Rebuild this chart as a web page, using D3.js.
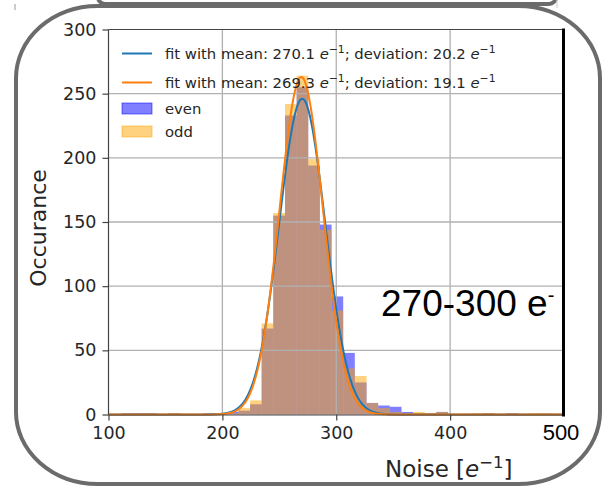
<!DOCTYPE html>
<html>
<head>
<meta charset="utf-8">
<script src="https://cdn.jsdelivr.net/npm/d3@7/dist/d3.min.js"></script>
<style>
  body { margin: 0; background: #fff; }
  svg { display: block; }
</style>
</head>
<body>
<svg id="chart" width="606" height="489"></svg>
<script>
// histogram bin edges (noise, e^-1)
const binEdges = [101.5, 111.7, 122.0, 132.2, 142.4, 152.7, 162.9, 173.1, 183.3, 193.6,
    203.8, 214.0, 224.3, 234.5, 244.7, 255.0, 265.2, 275.4, 285.6, 295.9,
    306.1, 316.3, 326.6, 336.8, 347.0, 357.3, 367.5, 377.7, 387.9, 398.2,
    408.4, 418.6, 428.9, 439.1, 449.3, 459.6, 469.8, 480.0, 490.2, 500.5];

// counts per bin
const evenCounts = [0, 1, 1, 1, 0, 1, 0, 0, 1, 1,
    2, 3, 8, 67, 155, 233, 255, 194, 148, 92,
    48, 25, 9, 7, 6, 2, 1, 1, 2, 0,
    0, 0, 1, 0, 1, 0, 0, 0, 0];
const oddCounts = [0, 0, 0, 0, 0, 1, 0, 0, 0, 0,
    1, 5, 11, 71, 157, 242, 264, 199, 144, 81,
    36, 30, 9, 5, 2, 1, 2, 1, 2, 0,
    0, 1, 1, 0, 0, 0, 1, 1, 0];

// gaussian fits (from the legend) and their peak heights
const fitMeans = [270.1, 269.3];
const fitDeviations = [20.2, 19.1];
const fitPeaks = [246, 263];
const fitColors = ["#1f77b4", "#ff7f0e"];

const xTicks = [100, 200, 300, 400];
const yTicks = [0, 50, 100, 150, 200, 250, 300];

const svg = d3.select("#chart");

const pLeft = 108.5, pRight = 564, pTop = 29.5, pBottom = 414.5;

const x = d3.scaleLinear().domain([100, 500]).range([pLeft, pRight]);
const y = d3.scaleLinear().domain([0, 300]).range([pBottom, pTop]);

svg.append("clipPath").attr("id", "plotClip")
    .append("rect")
    .attr("x", pLeft).attr("y", pTop - 5)
    .attr("width", pRight - pLeft).attr("height", pBottom - pTop + 6);

// outer rounded frame drawn on the screenshot
svg.append("rect")
    .attr("x", 98).attr("y", -14)
    .attr("width", 458).attr("height", 18)
    .attr("rx", 7)
    .attr("fill", "none")
    .attr("stroke", "#6b6b6b")
    .attr("stroke-width", 4);

svg.append("rect")
    .attr("x", 16).attr("y", 6)
    .attr("width", 584).attr("height", 478)
    .attr("rx", 82).attr("ry", 72)
    .attr("fill", "#fff")
    .attr("stroke", "#6b6b6b")
    .attr("stroke-width", 4);

svg.append("line")
    .attr("x1", 15).attr("x2", 15).attr("y1", 4).attr("y2", 10)
    .attr("stroke", "#999").attr("stroke-width", 1);
svg.append("line")
    .attr("x1", 557).attr("x2", 557).attr("y1", 0).attr("y2", 8)
    .attr("stroke", "#ccc").attr("stroke-width", 1);

const plot = svg.append("g").attr("clip-path", "url(#plotClip)");

// histograms: even first, odd on top
function drawBars(counts, color, cls) {
    const bins = counts.map((c, i) => ({ x0: binEdges[i], x1: binEdges[i + 1], count: c }))
        .filter(b => b.count > 0);
    plot.append("g").attr("class", cls)
        .selectAll("rect")
        .data(bins)
        .enter().append("rect")
        .attr("x", d => x(d.x0))
        .attr("width", d => x(d.x1) - x(d.x0))
        .attr("y", d => y(d.count))
        .attr("height", d => y(0) - y(d.count))
        .attr("fill", color)
        .attr("fill-opacity", 0.5);
}

drawBars(evenCounts, "#0000ff", "even");
drawBars(oddCounts, "#ffa500", "odd");

// grid (above the patches, below the lines)
const grid = svg.append("g").attr("class", "grid");
grid.selectAll(".gx")
    .data(xTicks.filter(d => d > 100))
    .enter().append("line")
    .attr("x1", d => x(d)).attr("x2", d => x(d))
    .attr("y1", pTop).attr("y2", pBottom)
    .attr("stroke", "#b0b0b0").attr("stroke-width", 1.3);
grid.selectAll(".gy")
    .data(yTicks.filter(d => d > 0 && d < 300))
    .enter().append("line")
    .attr("x1", pLeft).attr("x2", pRight)
    .attr("y1", d => y(d)).attr("y2", d => y(d))
    .attr("stroke", "#b0b0b0").attr("stroke-width", 1.3);

// fitted curves
const xs = d3.range(100, 500.01, 0.5);
const line = d3.line()
    .x(d => x(d[0]))
    .y(d => y(d[1]));

fitMeans.forEach((mu, i) => {
    const s = fitDeviations[i];
    const pts = xs.map(v => [v, fitPeaks[i] * Math.exp(-0.5 * ((v - mu) / s) ** 2)]);
    svg.append("path")
        .datum(pts)
        .attr("d", line)
        .attr("fill", "none")
        .attr("stroke", fitColors[i])
        .attr("stroke-width", 2);
});

// spines
svg.append("line").attr("x1", pLeft).attr("x2", pLeft).attr("y1", pTop).attr("y2", pBottom)
    .attr("stroke", "#444").attr("stroke-width", 1.2);
svg.append("line").attr("x1", pLeft).attr("x2", pRight).attr("y1", pTop).attr("y2", pTop)
    .attr("stroke", "#444").attr("stroke-width", 1.2);
svg.append("line").attr("x1", pLeft).attr("x2", pRight).attr("y1", pBottom + 0.5).attr("y2", pBottom + 0.5)
    .attr("stroke", "#444").attr("stroke-width", 1);
svg.append("rect").attr("x", 562).attr("y", pTop - 1).attr("width", 3).attr("height", pBottom - pTop + 3)
    .attr("fill", "#000");

// axes
const xAxis = d3.axisBottom(x).tickValues(xTicks).tickSize(6).tickPadding(6);
const gx = svg.append("g").attr("transform", `translate(0,${pBottom})`).call(xAxis);
gx.select(".domain").remove();
gx.selectAll(".tick line").attr("stroke", "#444").attr("stroke-width", 1.2);
gx.selectAll(".tick text")
    .attr("fill", "#262626")
    .style("font-family", "'DejaVu Sans'")
    .style("font-size", "17.5px");

const yAxis = d3.axisLeft(y).tickValues(yTicks).tickSize(6).tickPadding(6);
const gy = svg.append("g").attr("transform", `translate(${pLeft},0)`).call(yAxis);
gy.select(".domain").remove();
gy.selectAll(".tick line").attr("stroke", "#444").attr("stroke-width", 1.2);
gy.selectAll(".tick text")
    .attr("fill", "#262626")
    .style("font-family", "'DejaVu Sans'")
    .style("font-size", "17.5px");

// hand-added "500" label
svg.append("text")
    .attr("x", 561).attr("y", 440)
    .attr("text-anchor", "middle")
    .style("font-family", "'Liberation Sans', Arial")
    .style("font-size", "22px")
    .attr("fill", "#000")
    .text("500");

// axis labels
svg.append("text")
    .attr("transform", "translate(46,228) rotate(-90)")
    .attr("text-anchor", "middle")
    .style("font-family", "'DejaVu Sans'")
    .style("font-size", "22px")
    .attr("fill", "#262626")
    .text("Occurance");

const xl = svg.append("text")
    .attr("x", 385).attr("y", 477)
    .style("font-family", "'DejaVu Sans'")
    .style("font-size", "23px")
    .attr("fill", "#262626");
xl.append("tspan").text("Noise [");
xl.append("tspan").style("font-style", "italic").text("e");
xl.append("tspan").attr("dy", -9).style("font-size", "16.5px").text("\u22121");
xl.append("tspan").attr("dy", 9).text("]");

// annotation
const ann = svg.append("text")
    .attr("x", 381).attr("y", 316)
    .style("font-family", "'Liberation Sans', Arial")
    .style("font-size", "37px")
    .attr("fill", "#000");
ann.append("tspan").text("270-300 e");
ann.append("tspan").attr("dy", -14).style("font-size", "20px").text("-");

// legend
const legend = svg.append("g").attr("class", "legend")
    .style("font-family", "'DejaVu Sans'")
    .style("font-size", "14.8px")
    .attr("fill", "#262626");

const fitRows = [53.5, 82.5];
fitMeans.forEach((mu, i) => {
    legend.append("line")
        .attr("x1", 122).attr("x2", 152)
        .attr("y1", fitRows[i]).attr("y2", fitRows[i])
        .attr("stroke", fitColors[i]).attr("stroke-width", 2);
    const t = legend.append("text").attr("x", 165).attr("y", fitRows[i] + 5);
    t.append("tspan").text(`fit with mean: ${mu.toFixed(1)} `);
    t.append("tspan").style("font-style", "italic").text("e");
    t.append("tspan").attr("dy", -6).style("font-size", "10.8px").text("\u22121");
    t.append("tspan").attr("dy", 6).text(`; deviation: ${fitDeviations[i].toFixed(1)} `);
    t.append("tspan").style("font-style", "italic").text("e");
    t.append("tspan").attr("dy", -6).style("font-size", "10.8px").text("\u22121");
});

const histRows = [
    { name: "even", color: "#0000ff", yc: 108.5 },
    { name: "odd", color: "#ffa500", yc: 131.5 }
];
histRows.forEach(r => {
    legend.append("rect")
        .attr("x", 122).attr("y", r.yc - 5.5)
        .attr("width", 30).attr("height", 11)
        .attr("fill", r.color).attr("fill-opacity", 0.5)
        .attr("stroke", r.color).attr("stroke-opacity", 0.5);
    legend.append("text")
        .attr("x", 165).attr("y", r.yc + 5)
        .text(r.name);
});
</script>
</body>
</html>
